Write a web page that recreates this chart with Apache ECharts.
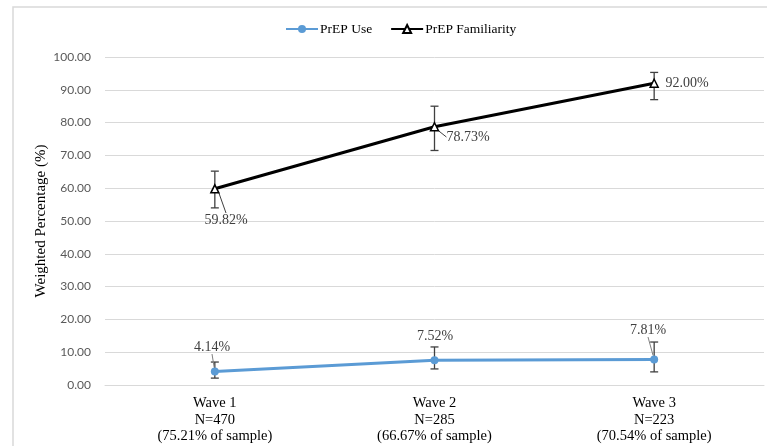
<!DOCTYPE html>
<html>
<head>
<meta charset="utf-8">
<script src="https://cdn.jsdelivr.net/npm/echarts@6/dist/echarts.min.js"></script>
<style>html,body{margin:0;padding:0;background:#fff;}#c{width:767px;height:446px;}</style>
</head>
<body>
<div id="c"></div>
<script>
var categories = ['Wave 1\nN=470\n(75.21% of sample)', 'Wave 2\nN=285\n(66.67% of sample)', 'Wave 3\nN=223\n(70.54% of sample)'];
var useValues = [4.14, 7.52, 7.81];
var useLow = [2.1, 4.9, 4.0];
var useHigh = [7.0, 11.6, 13.1];
var famValues = [59.82, 78.73, 92.00];
var famLow = [54.0, 71.5, 87.0];
var famHigh = [65.2, 85.0, 95.3];
var yTicks = [0, 10, 20, 30, 40, 50, 60, 70, 80, 90, 100];

var chart = echarts.init(document.getElementById('c'));
var serif = '"Liberation Serif", "Times New Roman", serif';

function errorSeries(low, high) {
  return {
    type: 'custom',
    silent: true,
    z: 5,
    data: low.map(function (l, i) { return [i, l, high[i]]; }),
    renderItem: function (params, api) {
      var lo = api.coord([api.value(0), api.value(1)]);
      var hi = api.coord([api.value(0), api.value(2)]);
      var w = 4;
      var st = { stroke: '#404040', lineWidth: 1.3 };
      return {
        type: 'group',
        children: [
          { type: 'line', shape: { x1: lo[0], y1: lo[1], x2: hi[0], y2: hi[1] }, style: st },
          { type: 'line', shape: { x1: lo[0] - w, y1: lo[1], x2: lo[0] + w, y2: lo[1] }, style: st },
          { type: 'line', shape: { x1: hi[0] - w, y1: hi[1], x2: hi[0] + w, y2: hi[1] }, style: st }
        ]
      };
    }
  };
}

var famLabelPos = [[226, 220], [468, 137], [687, 83]];
var famLeader = [true, true, false];
var useLabelPos = [[212, 347], [435, 336], [648, 330]];
var useLeader = [true, false, true];

function withLeaders(values, leaders) {
  return values.map(function (v, i) { return { value: v, labelLine: { show: leaders[i] } }; });
}

var labelStyle = { show: true, fontFamily: serif, fontSize: 14, color: '#404040',
  formatter: function (p) { return p.value.toFixed(2) + '%'; } };

chart.setOption({
  animation: false,
  backgroundColor: '#fff',
  graphic: [{ type: 'rect', shape: { x: 13, y: 7, width: 800, height: 500 }, style: { fill: 'none', stroke: '#d9d9d9', lineWidth: 1.5 }, z: -10 }],
  legend: {
    top: 17, left: 280, itemWidth: 32, itemHeight: 10, itemGap: 18,
    textStyle: { fontFamily: serif, fontSize: 13.5, color: '#000', padding: [0, 0, 0, -3] },
    data: ['PrEP Use', 'PrEP Familiarity']
  },
  grid: { left: 105, right: 3, top: 57, bottom: 61 },
  xAxis: {
    type: 'category', data: categories,
    axisLine: { lineStyle: { color: '#d9d9d9', width: 1 } },
    axisTick: { show: false },
    axisLabel: { fontFamily: serif, fontSize: 14.5, color: '#000', lineHeight: 16.5, margin: 10 }
  },
  yAxis: {
    type: 'value', min: yTicks[0], max: yTicks[yTicks.length - 1], interval: 10,
    name: 'Weighted Percentage (%)', nameLocation: 'middle', nameGap: 56, nameMoveOverlap: false,
    nameTextStyle: { fontFamily: serif, fontSize: 15, color: '#000' },
    axisLine: { show: false }, axisTick: { show: false },
    splitLine: { lineStyle: { color: '#d9d9d9', width: 1 } },
    axisLabel: { fontFamily: 'Lato, "Open Sans", sans-serif', fontSize: 12, color: '#595959', margin: 14,
      formatter: function (v) { return v.toFixed(2); } }
  },
  series: [
    {
      name: 'PrEP Use', type: 'line', data: withLeaders(useValues, useLeader), z: 10,
      symbol: 'circle', symbolSize: 8,
      itemStyle: { color: '#5B9BD5' },
      lineStyle: { color: '#5B9BD5', width: 3 },
      label: labelStyle,
      labelLine: { show: true, lineStyle: { color: '#7f7f7f', width: 1 } },
      labelLayout: function (p) {
        var i = p.dataIndex;
        return { x: useLabelPos[i][0], y: useLabelPos[i][1], align: 'center', verticalAlign: 'middle' };
      }
    },
    {
      name: 'PrEP Familiarity', type: 'line', data: withLeaders(famValues, famLeader), z: 10,
      symbol: 'triangle', symbolSize: 8,
      itemStyle: { color: '#fff', borderColor: '#000', borderWidth: 1.5 },
      lineStyle: { color: '#000', width: 3 },
      label: labelStyle,
      labelLine: { show: true, lineStyle: { color: '#404040', width: 1 } },
      labelLayout: function (p) {
        var i = p.dataIndex;
        return { x: famLabelPos[i][0], y: famLabelPos[i][1], align: 'center', verticalAlign: 'middle' };
      }
    },
    errorSeries(useLow, useHigh),
    errorSeries(famLow, famHigh)
  ]
});
</script>
</body>
</html>
